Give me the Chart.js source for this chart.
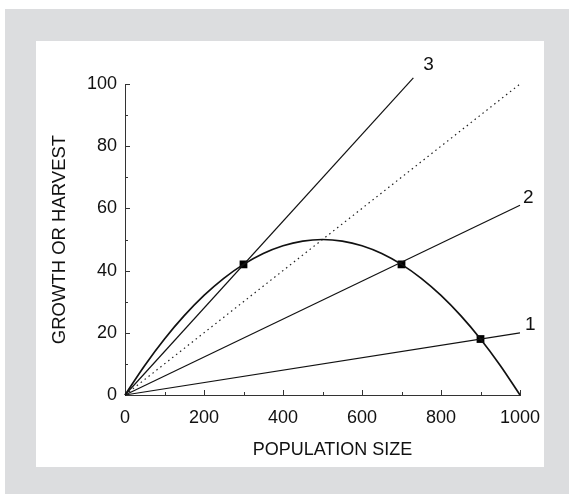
<!DOCTYPE html>
<html>
<head>
<meta charset="utf-8">
<script src="https://cdn.jsdelivr.net/npm/chart.js@4"></script>
<style>
  body { margin: 0; background: #fff; }
  #outer { position: absolute; left: 5px; top: 9px; width: 564px; height: 485px; background: #dcdddf; }
  #panel { position: absolute; left: 36px; top: 41px; width: 508px; height: 426px; background: #fff; }
  #panel canvas { position: absolute; left: 0; top: 0; }
</style>
</head>
<body>
<div id="outer"></div>
<div id="panel"><canvas id="chart" width="508" height="426"></canvas></div>
<script>
// growth curve
const popSize = [0, 50, 100, 150, 200, 250, 300, 350, 400, 450, 500, 550, 600, 650, 700, 750, 800, 850, 900, 950, 1000];
const growth = [0, 9.5, 18, 25.5, 32, 37.5, 42, 45.5, 48, 49.5, 50, 49.5, 48, 45.5, 42, 37.5, 32, 25.5, 18, 9.5, 0];

// harvest lines, start and end points
const harvest1 = [[0, 0], [1000, 20]];
const harvest2 = [[0, 0], [1000, 61]];
const harvest3 = [[0, 0], [730, 102]];
const reference = [[0, 0], [1000, 100]];
const lineLabels = ["1", "2", "3"];

// equilibrium points
const eqX = [300, 700, 900];
const eqY = [42, 42, 18];

const xTicks = [0, 200, 400, 600, 800, 1000];
const yTicks = [0, 20, 40, 60, 80, 100];
const xTitle = "POPULATION SIZE";

const toPts = arr => arr.map(p => ({ x: p[0], y: p[1] }));

const FONT = "'Liberation Sans', Arial, sans-serif";

const axisMarks = {
  id: "axisMarks",
  afterDraw(chart) {
    const ctx = chart.ctx;
    const xs = chart.scales.x, ys = chart.scales.y;
    const y0 = ys.getPixelForValue(0), x0 = xs.getPixelForValue(0);
    ctx.save();
    ctx.strokeStyle = "#333";
    ctx.lineWidth = 1;
    ctx.beginPath();
    for (let v = 100; v <= 1000; v += 100) {
      const px = Math.round(xs.getPixelForValue(v)) + 0.5;
      const len = v % 200 === 0 ? 5 : 3;
      ctx.moveTo(px, y0);
      ctx.lineTo(px, y0 - len);
    }
    for (let v = 10; v <= 100; v += 10) {
      const py = Math.round(ys.getPixelForValue(v)) + 0.5;
      const len = v % 20 === 0 ? 5 : 3;
      ctx.moveTo(x0, py);
      ctx.lineTo(x0 + len, py);
    }
    ctx.stroke();

    // line number labels at the end of each harvest line
    const offs = [[5, -8], [3, -8], [10, -13]];
    ctx.fillStyle = "#111";
    ctx.font = "19px " + FONT;
    ctx.textAlign = "left";
    ctx.textBaseline = "middle";
    [harvest1, harvest2, harvest3].forEach((h, i) => {
      const end = h[h.length - 1];
      const px = xs.getPixelForValue(end[0]);
      const py = ys.getPixelForValue(end[1]);
      ctx.fillText(lineLabels[i], px + offs[i][0], py + offs[i][1]);
    });

    // x axis title, sits a little right of centre in the original
    ctx.font = "18px " + FONT;
    ctx.textAlign = "center";
    ctx.fillText(xTitle, (xs.left + xs.right) / 2 + 10, xs.bottom - 17);
    ctx.restore();
  }
};

new Chart(document.getElementById("chart"), {
  type: "scatter",
  data: {
    datasets: [
      {
        label: "growth",
        data: popSize.map((x, i) => ({ x: x, y: growth[i] })),
        showLine: true,
        borderColor: "#111",
        borderWidth: 1.7,
        pointRadius: 0,
        cubicInterpolationMode: "monotone"
      },
      {
        data: toPts(reference),
        showLine: true,
        borderColor: "#222",
        borderWidth: 1.2,
        borderDash: [1.5, 3.5],
        pointRadius: 0
      },
      {
        data: toPts(harvest1),
        showLine: true,
        borderColor: "#111",
        borderWidth: 1.2,
        pointRadius: 0
      },
      {
        data: toPts(harvest2),
        showLine: true,
        borderColor: "#111",
        borderWidth: 1.2,
        pointRadius: 0
      },
      {
        data: toPts(harvest3),
        showLine: true,
        borderColor: "#111",
        borderWidth: 1.2,
        pointRadius: 0
      },
      {
        data: eqX.map((x, i) => ({ x: x, y: eqY[i] })),
        showLine: false,
        pointStyle: "rect",
        pointRadius: 5.5,
        backgroundColor: "#000",
        borderColor: "#000",
        borderWidth: 0
      }
    ]
  },
  options: {
    responsive: false,
    animation: false,
    clip: false,
    layout: { padding: { top: 43, right: 24, left: 0, bottom: 0 } },
    plugins: {
      legend: { display: false },
      tooltip: { enabled: false }
    },
    scales: {
      x: {
        type: "linear",
        min: 0,
        max: 1000,
        afterFit: s => { s.height = 72; s.paddingLeft = 0; s.paddingRight = 0; },
        afterBuildTicks: s => { s.ticks = xTicks.map(v => ({ value: v })); },
        grid: { display: false, drawTicks: false },
        border: { color: "#333", width: 1 },
        ticks: {
          color: "#111",
          padding: 12,
          font: { family: FONT, size: 18 },
          callback: v => String(v)
        },
        title: { display: false }
      },
      y: {
        min: 0,
        max: 100,
        afterFit: s => { s.width = 89; s.paddingTop = 0; s.paddingBottom = 0; },
        afterBuildTicks: s => { s.ticks = yTicks.map(v => ({ value: v })); },
        grid: { display: false, drawTicks: false },
        border: { color: "#333", width: 1 },
        ticks: { color: "#111", padding: 8, font: { family: FONT, size: 18 } },
        title: {
          display: true,
          text: "GROWTH OR HARVEST",
          color: "#111",
          padding: { top: 13, bottom: 0 },
          font: { family: FONT, size: 18.5 }
        }
      }
    }
  },
  plugins: [axisMarks]
});
</script>
</body>
</html>
